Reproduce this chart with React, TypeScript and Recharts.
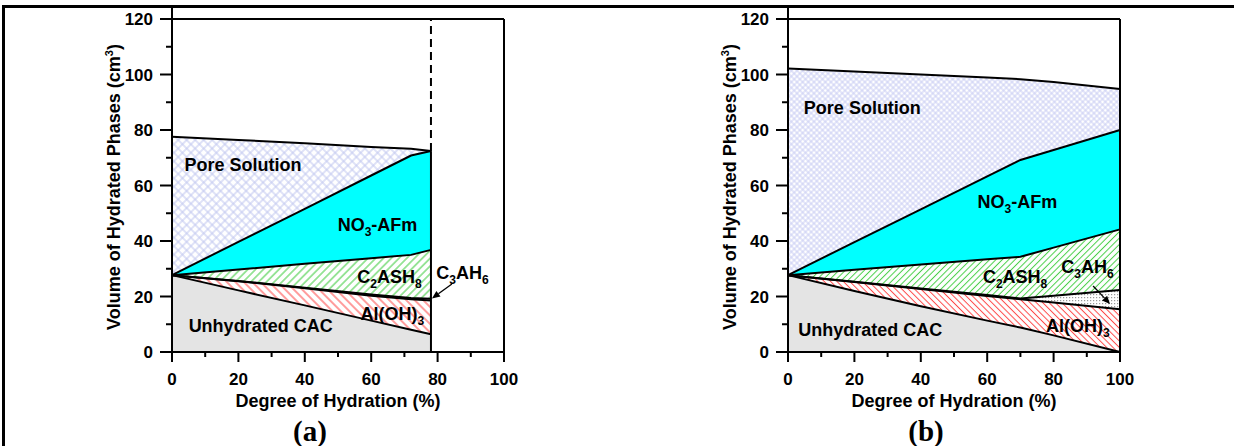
import React from "react";
import { AreaChart, Area, XAxis, YAxis, ReferenceDot, ReferenceLine } from "recharts";

// degree of hydration (%) at each computed step
const HYD_A = [0, 20, 40, 60, 72, 78];
const HYD_B = [0, 20, 40, 60, 70, 80, 100];

// phase volumes (cm3), listed bottom to top of the stack
const CAC_A = [27.7, 22.2, 16.8, 11.3, 8.0, 6.4];
const ALOH_A = [0, 3.3, 6.2, 9.0, 11.0, 12.2];
const C3AH6_A = [0, 0.1, 0.2, 0.4, 0.5, 0.6];
const C2ASH8_A = [0, 4.1, 8.6, 13.1, 15.5, 17.6];
const AFM_A = [0, 10.0, 19.8, 29.8, 35.8, 35.6];
const PORE_A = [49.9, 36.7, 23.6, 10.3, 2.4, 0];

const CAC_B = [27.7, 22.0, 16.5, 11.3, 8.8, 6.0, 0];
const ALOH_B = [0, 3.2, 6.2, 8.9, 10.2, 11.8, 15.4];
const C3AH6_B = [0, 0.1, 0.2, 0.3, 0.3, 2.5, 6.9];
const C2ASH8_B = [0, 4.3, 8.6, 12.9, 15.0, 17.3, 21.9];
const AFM_B = [0, 10.0, 19.9, 29.9, 34.9, 35.2, 35.8];
const PORE_B = [74.5, 61.5, 48.6, 35.6, 29.1, 24.5, 14.8];

const X_TICKS = [0, 10, 20, 30, 40, 50, 60, 70, 80, 90, 100];
const Y_TICKS = [0, 10, 20, 30, 40, 50, 60, 70, 80, 90, 100, 110, 120];

const FONT = "'Liberation Sans', Arial, Helvetica, sans-serif";
const SERIF = "'Liberation Serif', 'Times New Roman', serif";
const TICK_TEXT = { fontFamily: FONT, fontWeight: 700, fontSize: 17, fill: "#000" };
const TITLE_TEXT = { fontFamily: FONT, fontWeight: 700, fontSize: 18, fill: "#000" };
const AXIS_LINE = { stroke: "#000", strokeWidth: 2 };

const W = 600;
const H = 446;
const MARGIN = { top: 7, right: 82, bottom: 34, left: 92 };

type Phase = { key: string; fill: (p: string) => string };

// stack order, bottom first
const PHASES: Phase[] = [
  { key: "cac", fill: () => "#e4e4e4" },
  { key: "aloh", fill: (p) => `url(#red-${p})` },
  { key: "c3ah6", fill: (p) => `url(#dots-${p})` },
  { key: "c2ash8", fill: (p) => `url(#green-${p})` },
  { key: "afm", fill: () => "#00ffff" },
  { key: "pore", fill: (p) => `url(#pore-${p})` },
];

type Spot = { text: string; x: number; y: number };

const SPOTS_A: Spot[] = [
  { text: "Pore Solution", x: 21.4, y: 67.4 },
  { text: "NO_3-AFm", x: 61.9, y: 45.8 },
  { text: "C_2ASH_8", x: 65.5, y: 27.2 },
  { text: "C_3AH_6", x: 87.5, y: 28.5 },
  { text: "Al(OH)_3", x: 66.4, y: 13.7 },
  { text: "Unhydrated CAC", x: 26.7, y: 9.7 },
];

const SPOTS_B: Spot[] = [
  { text: "Pore Solution", x: 22.4, y: 88.1 },
  { text: "NO_3-AFm", x: 69.1, y: 54.2 },
  { text: "C_2ASH_8", x: 68.4, y: 27.2 },
  { text: "C_3AH_6", x: 90.2, y: 30.8 },
  { text: "Al(OH)_3", x: 87.3, y: 9.5 },
  { text: "Unhydrated CAC", x: 24.8, y: 8.1 },
];

const ARROW_A = [{ x: 84.3, y: 24.5 }, { x: 78.3, y: 19.3 }];
const ARROW_B = [{ x: 91.9, y: 23.8 }, { x: 97.0, y: 17.3 }];

// text with "_n" marking a subscript digit
function Rich({ x, y, text, size }: { x: number; y: number; text: string; size: number }) {
  const parts = text.split(/(_\d)/).filter(Boolean);
  let down = false;
  return (
    <text x={x} y={y} textAnchor="middle" style={{ ...TITLE_TEXT, fontSize: size }}>
      {parts.map((p, i) => {
        if (p.startsWith("_")) {
          down = true;
          return (
            <tspan key={i} dy={5} fontSize={size * 0.67}>
              {p.slice(1)}
            </tspan>
          );
        }
        const dy = down ? -5 : 0;
        down = false;
        return (
          <tspan key={i} dy={dy}>
            {p}
          </tspan>
        );
      })}
    </text>
  );
}

const major = (v: number) => v % 20 === 0;

function BottomTick({ x, y, payload }: any) {
  const v = payload.value;
  return (
    <g>
      <line x1={x} y1={y} x2={x} y2={y + (major(v) ? 10 : 5)} stroke="#000" strokeWidth={2} />
      {major(v) && (
        <text x={x} y={y + 33} textAnchor="middle" style={TICK_TEXT}>
          {v}
        </text>
      )}
    </g>
  );
}

function TopTick({ x, y, payload }: any) {
  const v = payload.value;
  return <line x1={x} y1={y} x2={x} y2={y - (major(v) ? 11 : 6)} stroke="#000" strokeWidth={2} />;
}

function LeftTick({ x, y, payload }: any) {
  const v = payload.value;
  return (
    <g>
      <line x1={x} y1={y} x2={x - (major(v) ? 12 : 6)} y2={y} stroke="#000" strokeWidth={2} />
      {major(v) && (
        <text x={x - 19} y={y + 6} textAnchor="end" style={TICK_TEXT}>
          {v}
        </text>
      )}
    </g>
  );
}

function RightTick({ x, y, payload }: any) {
  const v = payload.value;
  return <line x1={x} y1={y} x2={x + (major(v) ? 11 : 6)} y2={y} stroke="#000" strokeWidth={2} />;
}

function arrowShape(p: any) {
  const { x1, y1, x2, y2 } = p;
  const a = Math.atan2(y2 - y1, x2 - x1);
  const len = 8;
  const half = 3.5;
  const bx = x2 - len * Math.cos(a);
  const by = y2 - len * Math.sin(a);
  const nx = -Math.sin(a) * half;
  const ny = Math.cos(a) * half;
  return (
    <g>
      <line x1={x1} y1={y1} x2={bx} y2={by} stroke="#000" strokeWidth={1.3} />
      <polygon points={`${x2},${y2} ${bx + nx},${by + ny} ${bx - nx},${by - ny}`} fill="#000" />
    </g>
  );
}

function Patterns() {
  const hatch = (id: string, size: number, angle: number, color: string) => (
    <pattern id={id} width={size} height={size} patternUnits="userSpaceOnUse" patternTransform={`rotate(${angle})`}>
      <rect width={size} height={size} fill="#fff" />
      <line x1={size / 2} y1={0} x2={size / 2} y2={size} stroke={color} strokeWidth={1} />
    </pattern>
  );
  const mesh = (id: string, size: number, color: string) => (
    <pattern id={id} width={size} height={size} patternUnits="userSpaceOnUse" patternTransform="rotate(45)">
      <rect width={size} height={size} fill="#fff" />
      <line x1={size / 2} y1={0} x2={size / 2} y2={size} stroke={color} strokeWidth={1} />
      <line x1={0} y1={size / 2} x2={size} y2={size / 2} stroke={color} strokeWidth={1} />
    </pattern>
  );
  const dots = (id: string) => (
    <pattern id={id} width={3} height={3} patternUnits="userSpaceOnUse">
      <rect width={3} height={3} fill="#fff" />
      <rect width={1.2} height={1.2} fill="#999" />
    </pattern>
  );
  return (
    <svg width={0} height={0} style={{ position: "absolute" }}>
      <defs>
        {hatch("red-a", 6, -45, "#ff3b3b")}
        {hatch("red-b", 4.5, -45, "#ff4a4a")}
        {hatch("green-a", 5.5, 45, "#3ccc3c")}
        {hatch("green-b", 4.5, 45, "#48d048")}
        {mesh("pore-a", 6, "#c0c6f0")}
        {mesh("pore-b", 4, "#c9cdf3")}
        {dots("dots-a")}
        {dots("dots-b")}
      </defs>
    </svg>
  );
}

type PanelProps = {
  id: string;
  tag: string;
  hyd: number[];
  layers: Record<string, number[]>;
  spots: Spot[];
  arrow: { x: number; y: number }[];
  cutoff: boolean;
};

function Panel({ id, tag, hyd, layers, spots, arrow, cutoff }: PanelProps) {
  const rows = hyd.map((h, i) => {
    const row: Record<string, number> = { hyd: h };
    PHASES.forEach((p) => (row[p.key] = layers[p.key][i]));
    return row;
  });
  const last = hyd.length - 1;
  const endX = hyd[last];
  const endTop = PHASES.reduce((s, p) => s + layers[p.key][last], 0);

  return (
    <AreaChart width={W} height={H} data={rows} margin={MARGIN}>
      {PHASES.map((p) => (
        <Area
          key={p.key}
          type="linear"
          dataKey={p.key}
          stackId="fill"
          fill={p.fill(id)}
          fillOpacity={1}
          stroke="none"
          dot={false}
          activeDot={false}
          isAnimationActive={false}
        />
      ))}
      {PHASES.map((p) => (
        <Area
          key={p.key + "-edge"}
          type="linear"
          dataKey={p.key}
          stackId="edge"
          fill="none"
          stroke="#000"
          strokeWidth={2}
          dot={false}
          activeDot={false}
          isAnimationActive={false}
        />
      ))}
      {cutoff && (
        <ReferenceLine segment={[{ x: endX, y: 0 }, { x: endX, y: endTop }]} stroke="#000" strokeWidth={2} />
      )}
      {cutoff && (
        <ReferenceLine
          segment={[{ x: endX, y: endTop }, { x: endX, y: 120 }]}
          stroke="#000"
          strokeWidth={2}
          strokeDasharray="8 5"
        />
      )}
      <ReferenceLine segment={arrow} shape={arrowShape} />
      {spots.map((s) => (
        <ReferenceDot
          key={s.text}
          x={s.x}
          y={s.y}
          r={0}
          fill="none"
          stroke="none"
          label={({ viewBox }: any) => <Rich x={viewBox.x} y={viewBox.y + 6.5} text={s.text} size={18} />}
        />
      ))}
      <XAxis
        dataKey="hyd"
        type="number"
        domain={[0, 100]}
        ticks={X_TICKS}
        interval={0}
        tickSize={0}
        tickMargin={0}
        tickLine={false}
        tick={BottomTick}
        axisLine={AXIS_LINE}
        height={60}
        label={({ viewBox }: any) => (
          <g>
            <text x={viewBox.x + viewBox.width / 2} y={viewBox.y + 55} textAnchor="middle" style={TITLE_TEXT}>
              Degree of Hydration (%)
            </text>
            <text
              x={viewBox.x + viewBox.width / 2 - 28}
              y={viewBox.y + 89}
              textAnchor="middle"
              style={{ fontFamily: SERIF, fontWeight: 700, fontSize: 29, fill: "#000" }}
            >
              {tag}
            </text>
          </g>
        )}
      />
      <XAxis
        xAxisId="top"
        orientation="top"
        type="number"
        domain={[0, 100]}
        ticks={X_TICKS}
        interval={0}
        tickSize={0}
        tickMargin={0}
        tickLine={false}
        tick={TopTick}
        axisLine={AXIS_LINE}
        height={12}
      />
      <YAxis
        type="number"
        domain={[0, 120]}
        ticks={Y_TICKS}
        interval={0}
        tickSize={0}
        tickMargin={0}
        tickLine={false}
        tick={LeftTick}
        axisLine={AXIS_LINE}
        width={80}
        label={({ viewBox }: any) => {
          const bx = viewBox.x + viewBox.width - 52;
          const cy = viewBox.y + viewBox.height / 2 + 1.5;
          return (
            <text x={bx} y={cy} transform={`rotate(-90 ${bx} ${cy})`} textAnchor="middle" style={TITLE_TEXT}>
              Volume of Hydrated Phases (cm
              <tspan dy={-7} fontSize={11}>
                3
              </tspan>
              <tspan dy={7}>)</tspan>
            </text>
          );
        }}
      />
      <YAxis
        yAxisId="right"
        orientation="right"
        type="number"
        domain={[0, 120]}
        ticks={Y_TICKS}
        interval={0}
        tickSize={0}
        tickMargin={0}
        tickLine={false}
        tick={RightTick}
        axisLine={AXIS_LINE}
        width={14}
      />
    </AreaChart>
  );
}

export default function App() {
  return (
    <div
      style={{ position: "absolute", left: 0, top: 0, width: 1234, height: 446, background: "#fff", overflow: "hidden" }}
    >
      <Patterns />
      <div style={{ position: "absolute", left: 0, top: 0 }}>
        <Panel
          id="a"
          tag="(a)"
          hyd={HYD_A}
          layers={{ cac: CAC_A, aloh: ALOH_A, c3ah6: C3AH6_A, c2ash8: C2ASH8_A, afm: AFM_A, pore: PORE_A }}
          spots={SPOTS_A}
          arrow={ARROW_A}
          cutoff
        />
      </div>
      <div style={{ position: "absolute", left: 616, top: 0 }}>
        <Panel
          id="b"
          tag="(b)"
          hyd={HYD_B}
          layers={{ cac: CAC_B, aloh: ALOH_B, c3ah6: C3AH6_B, c2ash8: C2ASH8_B, afm: AFM_B, pore: PORE_B }}
          spots={SPOTS_B}
          arrow={ARROW_B}
          cutoff={false}
        />
      </div>
      {/* outer figure frame, top and left edges */}
      <svg
        width={1234}
        height={446}
        style={{ position: "absolute", left: 0, top: 0, zIndex: 5, pointerEvents: "none" }}
      >
        <path d="M3.5 446 L3.5 6.5 L1234 6.5" fill="none" stroke="#000" strokeWidth={3} />
      </svg>
    </div>
  );
}
